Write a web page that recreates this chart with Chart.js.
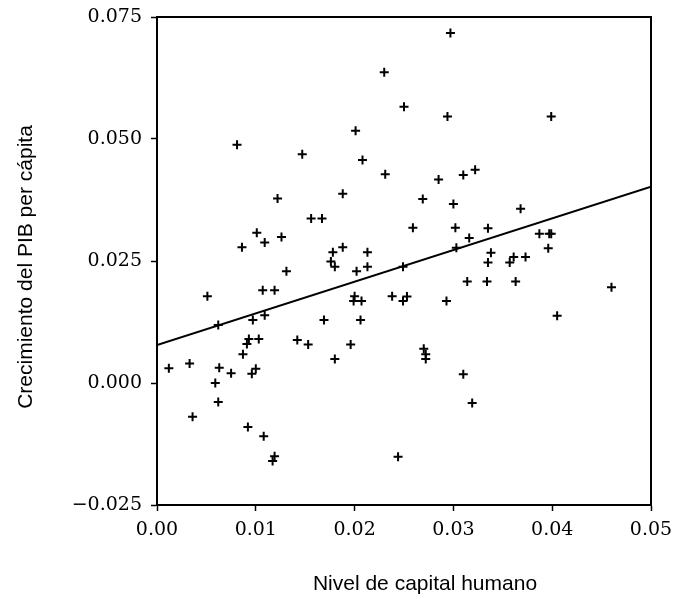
<!DOCTYPE html>
<html>
<head>
<meta charset="utf-8">
<script src="https://cdn.jsdelivr.net/npm/chart.js@4/dist/chart.umd.min.js"></script>
<style>
  html, body { margin: 0; padding: 0; background: #fff; }
  #chart { display: block; }
</style>
</head>
<body>
<canvas id="chart" width="677" height="599"></canvas>
<script>
/* Human capital vs GDP per capita growth scatter */
const xValues = [
  0.0230, 0.0250, 0.0201, 0.0081, 0.0147, 0.0208, 0.0231, 0.0122, 0.0188, 0.0297,
  0.0294, 0.0399, 0.0285, 0.0310, 0.0322, 0.0269, 0.0300, 0.0368, 0.0156, 0.0167,
  0.0101, 0.0086, 0.0109, 0.0126, 0.0178, 0.0188, 0.0213, 0.0176, 0.0180, 0.0131,
  0.0202, 0.0213, 0.0249, 0.0051, 0.0107, 0.0119, 0.0200, 0.0199, 0.0207, 0.0238,
  0.0249, 0.0253, 0.0062, 0.0097, 0.0109, 0.0169, 0.0206, 0.0093, 0.0091, 0.0103,
  0.0142, 0.0153, 0.0196, 0.0087, 0.0180, 0.0012, 0.0033, 0.0063, 0.0075, 0.0096,
  0.0100, 0.0059, 0.0062, 0.0036, 0.0092, 0.0108, 0.0117, 0.0119, 0.0244, 0.0259,
  0.0302, 0.0335, 0.0316, 0.0303, 0.0387, 0.0397, 0.0399, 0.0396, 0.0338, 0.0335,
  0.0361, 0.0357, 0.0373, 0.0314, 0.0334, 0.0363, 0.0460, 0.0293, 0.0405, 0.0270,
  0.0272, 0.0272, 0.0310, 0.0319
];
const yValues = [
  0.0637, 0.0566, 0.0517, 0.0488, 0.0469, 0.0457, 0.0428, 0.0378, 0.0388, 0.0717,
  0.0546, 0.0546, 0.0417, 0.0426, 0.0437, 0.0377, 0.0367, 0.0357, 0.0337, 0.0337,
  0.0308, 0.0278, 0.0288, 0.0299, 0.0268, 0.0278, 0.0268, 0.0249, 0.0238, 0.0229,
  0.0229, 0.0238, 0.0238, 0.0178, 0.0190, 0.0190, 0.0178, 0.0168, 0.0168, 0.0178,
  0.0168, 0.0177, 0.0119, 0.0129, 0.0139, 0.0129, 0.0129, 0.0090, 0.0080, 0.0090,
  0.0088, 0.0079, 0.0079, 0.0059, 0.0049, 0.0030, 0.0040, 0.0031, 0.0020, 0.0019,
  0.0029, 0.0000, -0.0039, -0.0069, -0.0090, -0.0109, -0.0160, -0.0150, -0.0151, 0.0318,
  0.0318, 0.0317, 0.0297, 0.0277, 0.0306, 0.0306, 0.0306, 0.0276, 0.0267, 0.0247,
  0.0258, 0.0247, 0.0258, 0.0208, 0.0208, 0.0208, 0.0196, 0.0168, 0.0138, 0.0070,
  0.0059, 0.0049, 0.0018, -0.0041
];

// fitted regression line, endpoints at the axis limits
const fitX = [0.0, 0.05];
const fitY = [0.0078, 0.0402];

const xTicks = [0, 0.01, 0.02, 0.03, 0.04, 0.05];
const xTickLabels = ['0.00', '0.01', '0.02', '0.03', '0.04', '0.05'];
const yTicks = [-0.025, 0, 0.025, 0.05, 0.075];
const yTickLabels = ['\u22120.025', '0.000', '0.025', '0.050', '0.075'];

const xTitle = 'Nivel de capital humano';
const yTitle = 'Crecimiento del PIB per cápita';

const TICK_FONT = { family: 'DejaVu Serif', size: 19 };
const TITLE_FONT = '21px "Liberation Sans", Arial, sans-serif';

const scatterPoints = xValues.map((x, i) => ({ x: x, y: yValues[i] }));
const fitPoints = fitX.map((x, i) => ({ x: x, y: fitY[i] }));

// frame around the plot + axis titles at fixed spots
const framePlugin = {
  id: 'frame',
  afterDraw(chart) {
    const { ctx, chartArea: a } = chart;
    ctx.save();
    ctx.strokeStyle = '#000';
    ctx.lineWidth = 2;
    ctx.strokeRect(a.left, a.top, a.right - a.left, a.bottom - a.top);

    ctx.fillStyle = '#000';
    ctx.font = TITLE_FONT;
    ctx.textAlign = 'center';
    ctx.textBaseline = 'middle';
    ctx.fillText(xTitle, 425, 584);
    ctx.translate(26, 267);
    ctx.rotate(-Math.PI / 2);
    ctx.fillText(yTitle, 0, 0);
    ctx.restore();
  }
};

new Chart(document.getElementById('chart'), {
  type: 'scatter',
  data: {
    datasets: [
      {
        label: 'Países',
        data: scatterPoints,
        pointStyle: 'cross',
        pointRadius: 4.5,
        pointBorderWidth: 2,
        borderColor: '#000',
        backgroundColor: '#000',
      },
      {
        type: 'line',
        label: 'Recta de regresión',
        data: fitPoints,
        borderColor: '#000',
        borderWidth: 2,
        pointRadius: 0,
        fill: false,
        tension: 0,
      },
    ],
  },
  options: {
    responsive: false,
    animation: false,
    layout: { padding: { left: 0, top: 17, right: 26, bottom: 0 } },
    plugins: {
      legend: { display: false },
      tooltip: { enabled: false },
    },
    scales: {
      x: {
        type: 'linear',
        min: 0,
        max: 0.05,
        afterFit: (s) => {
          s.height = 94;
          s.paddingLeft = 0;
          s.paddingRight = 0;
        },
        afterBuildTicks: (s) => { s.ticks = xTicks.map(v => ({ value: v })); },
        grid: { display: true, drawOnChartArea: false, drawTicks: true, tickLength: 6, tickColor: '#000', tickWidth: 1.5 },
        border: { display: true, color: '#000', width: 2 },
        ticks: {
          font: TICK_FONT,
          color: '#000',
          padding: 8,
          maxRotation: 0,
          callback: (v, i) => xTickLabels[i],
        },
      },
      y: {
        type: 'linear',
        min: -0.025,
        max: 0.075,
        afterFit: (s) => {
          s.width = 157;
          s.paddingTop = 0;
          s.paddingBottom = 0;
        },
        afterBuildTicks: (s) => { s.ticks = yTicks.map(v => ({ value: v })); },
        grid: { display: true, drawOnChartArea: false, drawTicks: true, tickLength: 6, tickColor: '#000', tickWidth: 1.5 },
        border: { display: true, color: '#000', width: 2 },
        ticks: {
          font: TICK_FONT,
          color: '#000',
          padding: 9,
          callback: (v, i) => yTickLabels[i],
        },
      },
    },
  },
  plugins: [framePlugin],
});
</script>
</body>
</html>
